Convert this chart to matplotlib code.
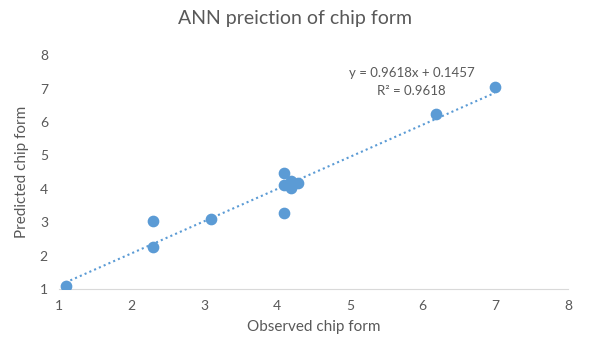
import numpy as np
import matplotlib.pyplot as plt

plt.rcParams['font.family'] = ['Lato', 'DejaVu Sans']

# observed vs predicted chip form
observed = [1.09, 2.29, 2.29, 3.09, 4.09, 4.09, 4.09, 4.19, 4.19, 4.28, 6.18, 6.99]
predicted = [1.09, 3.04, 2.27, 3.09, 3.28, 4.46, 4.11, 4.24, 4.01, 4.18, 6.24, 7.04]
slope = 0.9618
intercept = 0.1457
r2 = 0.9618

grey = '#595959'
blue = '#5b9bd5'

fig = plt.figure(figsize=(5.9, 3.49), dpi=100)
ax = fig.add_axes([0.1, 0.172, 0.863, 0.67])

ax.scatter(observed, predicted, s=55, color=blue, zorder=3)

# linear trendline
xs = np.array([min(observed), max(observed)])
ax.plot(xs, slope * xs + intercept, linestyle=(0, (1, 1.5)), color=blue, lw=1.5)

ax.set_xlim(1, 8)
ax.set_ylim(1, 8)
ax.set_xticks(range(1, 9))
ax.set_yticks(range(1, 9))
ax.tick_params(length=0, colors=grey, labelsize=10, pad=8)
for s in ['top', 'right', 'left']:
    ax.spines[s].set_visible(False)
ax.spines['bottom'].set_color('#d9d9d9')

ax.set_xlabel('Observed chip form', color=grey, fontsize=11, labelpad=6)
ax.set_ylabel('Predicted chip form', color=grey, fontsize=11, labelpad=8)
fig.suptitle('ANN preiction of chip form', color=grey, fontsize=14, y=0.972)

ax.text(5.85, 7.2, f'y = {slope}x + {intercept}\nR² = {r2}', color=grey,
        fontsize=9.5, ha='center', va='center', linespacing=1.6)

fig.savefig('out.png', dpi=100)
